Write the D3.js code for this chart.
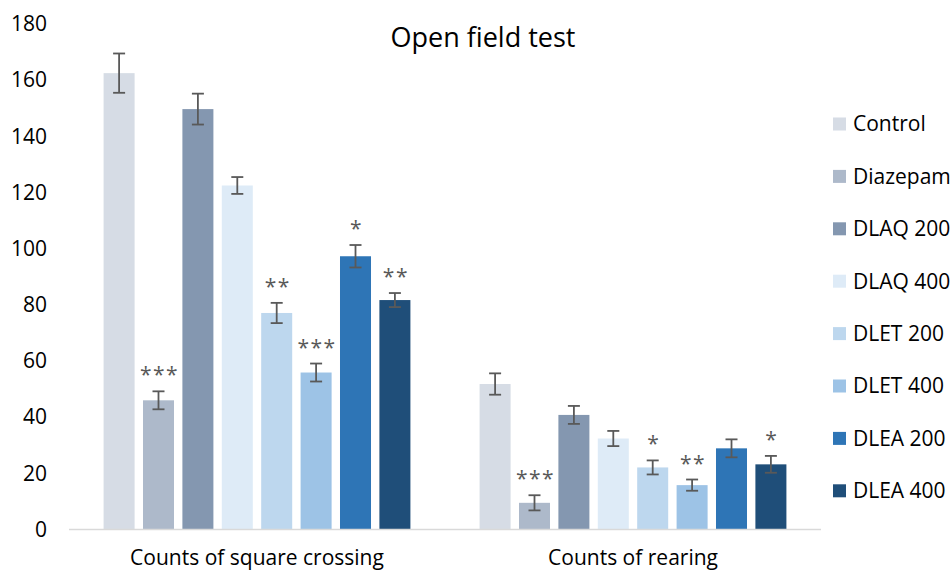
<!DOCTYPE html>
<html>
<head>
<meta charset="utf-8">
<script src="https://cdn.jsdelivr.net/npm/d3@7"></script>
<style>
  body { margin: 0; background: #fff; }
  svg { display: block; font-family: "Open Sans", "Noto Sans", sans-serif; }
</style>
</head>
<body>
<svg width="951" height="571"></svg>
<script>
// data
var groups = ["Counts of square crossing", "Counts of rearing"];
var series = ["Control", "Diazepam", "DLAQ 200", "DLAQ 400", "DLET 200", "DLET 400", "DLEA 200", "DLEA 400"];
var colors = ["#d6dce5", "#adb9ca", "#8497b0", "#deebf7", "#bdd7ee", "#9dc3e6", "#2e75b6", "#1f4e79"];
var crossing = [162.5, 46, 149.7, 122.5, 77.1, 55.9, 97.3, 81.7];
var crossingErr = [7, 3.2, 5.5, 3, 3.6, 3.2, 4, 2.5];
var rearing = [51.8, 9.5, 40.8, 32.4, 22.1, 15.8, 28.9, 23.2];
var rearingErr = [3.8, 2.7, 3.2, 2.7, 2.5, 2, 3.2, 3];
var crossingStars = ["", "***", "", "", "**", "***", "*", "**"];
var rearingStars = ["", "***", "", "", "*", "**", "", "*"];
var yTicks = [0, 20, 40, 60, 80, 100, 120, 140, 160, 180];

var svg = d3.select("svg");

var x0 = d3.scaleBand().domain(groups).range([69, 821]).paddingInner(0).paddingOuter(0);
var x1 = d3.scaleBand().domain(series).range([0, x0.bandwidth()]).paddingInner(0.213).paddingOuter(0.878);
var y = d3.scaleLinear().domain([0, 180]).range([529.5, 24]);

var rows = [];
[[crossing, crossingErr, crossingStars], [rearing, rearingErr, rearingStars]].forEach(function(g, gi) {
  series.forEach(function(s, si) {
    rows.push({ group: groups[gi], name: s, color: colors[si], value: g[0][si], err: g[1][si], star: g[2][si] });
  });
});

// y axis labels (no line)
svg.append("g")
  .attr("transform", "translate(47,0)")
  .call(d3.axisLeft(y).tickValues(yTicks).tickSize(0).tickPadding(0))
  .call(function(g) { g.select(".domain").remove(); })
  .selectAll("text")
  .attr("font-size", 21)
  .attr("font-family", "Open Sans, sans-serif")
  .attr("fill", "#000");

// bars
svg.append("g").selectAll("rect")
  .data(rows)
  .enter().append("rect")
  .attr("x", function(d) { return x0(d.group) + x1(d.name); })
  .attr("width", x1.bandwidth())
  .attr("y", function(d) { return y(d.value); })
  .attr("height", function(d) { return y(0) - y(d.value); })
  .attr("fill", function(d) { return d.color; });

// baseline
svg.append("line")
  .attr("x1", 69).attr("x2", 821)
  .attr("y1", y(0)).attr("y2", y(0))
  .attr("stroke", "#d9d9d9").attr("stroke-width", 1.5);

// error bars
var eb = svg.append("g").attr("stroke", "#595959").attr("stroke-width", 1.8).attr("fill", "none");
rows.forEach(function(d) {
  var cx = x0(d.group) + x1(d.name) + x1.bandwidth() / 2;
  var yt = y(d.value + d.err), yb = y(d.value - d.err);
  eb.append("line").attr("x1", cx).attr("x2", cx).attr("y1", yt).attr("y2", yb);
  eb.append("line").attr("x1", cx - 6).attr("x2", cx + 6).attr("y1", yt).attr("y2", yt);
  eb.append("line").attr("x1", cx - 6).attr("x2", cx + 6).attr("y1", yb).attr("y2", yb);
});

// significance stars
svg.append("g").selectAll("text")
  .data(rows.filter(function(d) { return d.star; }))
  .enter().append("text")
  .attr("x", function(d) { return x0(d.group) + x1(d.name) + x1.bandwidth() / 2 + 1; })
  .attr("y", function(d) { return y(d.value + d.err) - 9; })
  .attr("text-anchor", "middle")
  .attr("font-size", 21)
  .attr("letter-spacing", 1.5)
  .attr("fill", "#595959")
  .text(function(d) { return d.star; });

// group labels
svg.append("g").selectAll("text")
  .data(groups)
  .enter().append("text")
  .attr("x", function(d) { return x0(d) + x0.bandwidth() / 2; })
  .attr("y", 565)
  .attr("text-anchor", "middle")
  .attr("font-size", 21)
  .attr("fill", "#000")
  .text(function(d) { return d; });

// title
svg.append("text")
  .attr("x", 483).attr("y", 47)
  .attr("text-anchor", "middle")
  .attr("font-size", 27)
  .attr("fill", "#000")
  .text("Open field test");

// legend
var legend = svg.append("g").selectAll("g")
  .data(series)
  .enter().append("g")
  .attr("transform", function(d, i) { return "translate(833," + (124 + i * 52.4) + ")"; });
legend.append("rect")
  .attr("x", 0).attr("y", -6.5)
  .attr("width", 13).attr("height", 13)
  .attr("fill", function(d, i) { return colors[i]; });
legend.append("text")
  .attr("x", 20).attr("y", 0)
  .attr("dy", "0.35em")
  .attr("font-size", 21)
  .attr("fill", "#000")
  .text(function(d) { return d; });
</script>
</body>
</html>
